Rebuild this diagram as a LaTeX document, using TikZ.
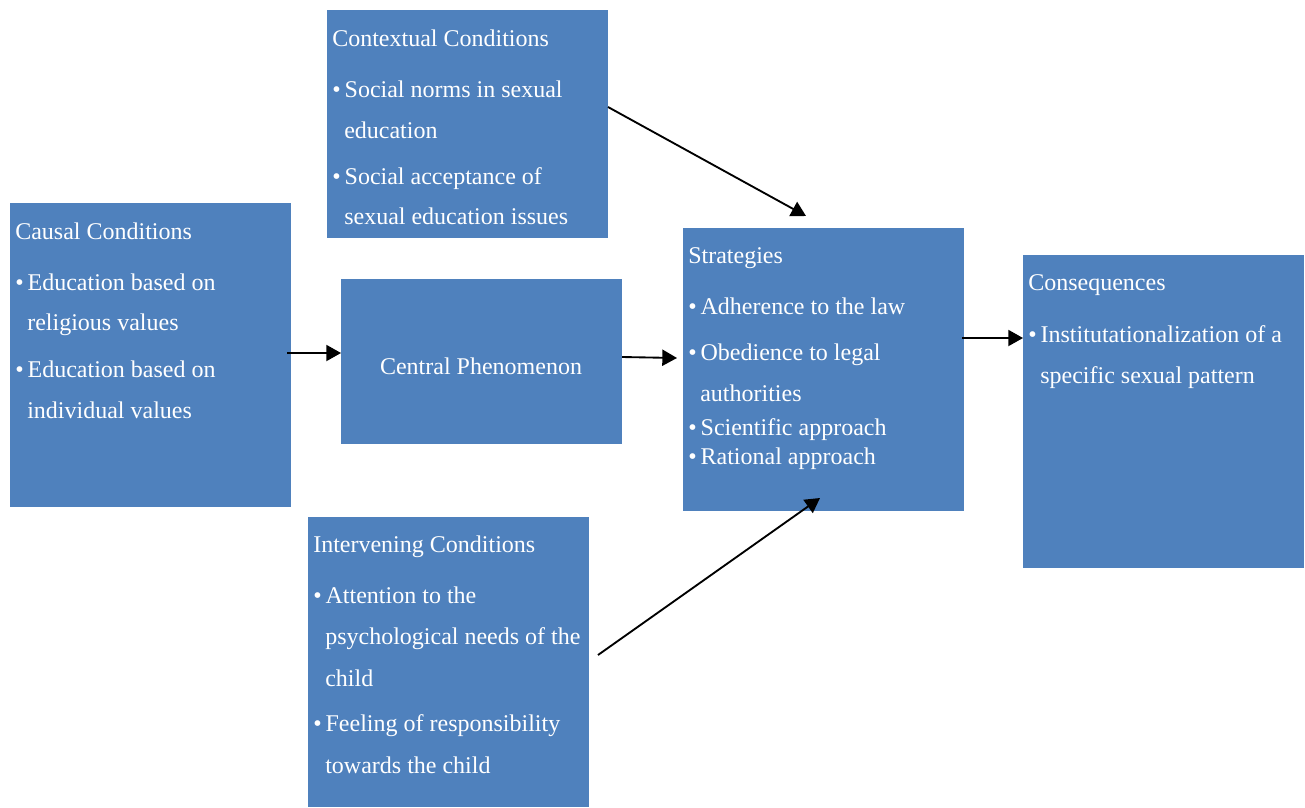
\documentclass[tikz,border=0pt]{standalone}
\usepackage{fontspec}
\setmainfont{Liberation Serif}
\usetikzlibrary{arrows.meta}
\definecolor{boxblue}{HTML}{4F81BD}

\begin{document}
\begin{tikzpicture}[x=0.75pt, y=-0.75pt,
  box/.style={fill=boxblue, anchor=north west, inner sep=0pt, minimum width=210.75pt},
  txt/.style={text=white, anchor=base west, inner sep=0pt, font=\fontsize{18}{21}\selectfont},
  flow/.style={-{Triangle[length=11pt, width=12pt]}, line width=1.4pt}]
  \useasboundingbox (0,0) rectangle (1305,807);
  % boxes
  \node[box, minimum height=171pt]    (context)  at (327,10)   {};
  \node[box, minimum height=228pt]    (causal)   at (10,203)   {};
  \node[box, minimum height=123.75pt] (central)  at (341,279)  {};
  \node[box, minimum height=212.25pt] (strat)    at (683,228)  {};
  \node[box, minimum height=234.75pt] (conseq)   at (1023,255) {};
  \node[box, minimum height=217.5pt]  (interv)   at (308,517)  {};
  % contextual conditions
  \node[txt] (context0) at (332,46)  {Contextual Conditions};
  \node[txt] (context1) at (332,97)  {\textbullet\,Social norms in sexual};
  \node[txt] (context2) at (344,138) {education};
  \node[txt] (context3) at (332,184) {\textbullet\,Social acceptance of};
  \node[txt] (context4) at (344,224) {sexual education issues};
  % causal conditions
  \node[txt] (causal0) at (15,239) {Causal Conditions};
  \node[txt] (causal1) at (15,290) {\textbullet\,Education based on};
  \node[txt] (causal2) at (27,330) {religious values};
  \node[txt] (causal3) at (15,377) {\textbullet\,Education based on};
  \node[txt] (causal4) at (27,418) {individual values};
  % central phenomenon
  \node[txt, anchor=base] (central0) at (481,374) {Central Phenomenon};
  % strategies
  \node[txt] (strat0) at (688,263) {Strategies};
  \node[txt] (strat1) at (688,314) {\textbullet\,Adherence to the law};
  \node[txt] (strat2) at (688,360) {\textbullet\,Obedience to legal};
  \node[txt] (strat3) at (700,401) {authorities};
  \node[txt] (strat4) at (688,435) {\textbullet\,Scientific approach};
  \node[txt] (strat5) at (688,464) {\textbullet\,Rational approach};
  % consequences
  \node[txt] (conseq0) at (1028,290) {Consequences};
  \node[txt] (conseq1) at (1028,342) {\textbullet\,Institutationalization of a};
  \node[txt] (conseq2) at (1040,383) {specific sexual pattern};
  % intervening conditions
  \node[txt] (interv0) at (313,552) {Intervening Conditions};
  \node[txt] (interv1) at (313,603) {\textbullet\,Attention to the};
  \node[txt] (interv2) at (325,644) {psychological needs of the};
  \node[txt] (interv3) at (325,686) {child};
  \node[txt] (interv4) at (313,731) {\textbullet\,Feeling of responsibility};
  \node[txt] (interv5) at (325,773) {towards the child};
  % arrows
  \coordinate (causal-out) at (287,353);
  \coordinate (central-out) at (622,357);
  \coordinate (strat-in) at (677,358);
  \coordinate (context-out) at (608,107);
  \coordinate (strat-top) at (806,216);
  \coordinate (interv-out) at (598,655);
  \coordinate (strat-bot) at (820,498);
  \coordinate (strat-out) at (962,338);
  \draw[flow] (causal-out) -- (causal-out -| central.west);
  \draw[flow] (central-out) -- (strat-in);
  \draw[flow] (context-out) -- (strat-top);
  \draw[flow] (interv-out) -- (strat-bot);
  \draw[flow] (strat-out) -- (strat-out -| conseq.west);
\end{tikzpicture}
\end{document}
